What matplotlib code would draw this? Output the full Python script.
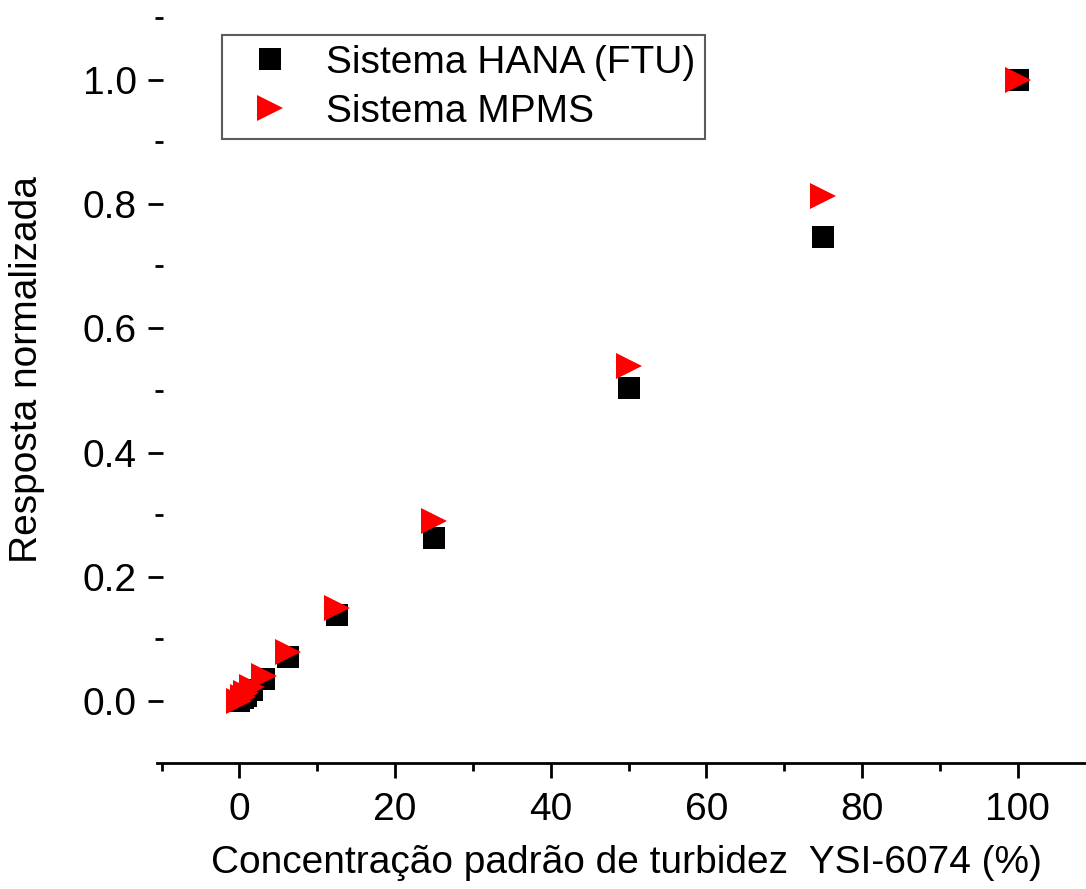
import numpy as np
import matplotlib.pyplot as plt

plt.rcParams['font.family'] = ['Liberation Sans', 'DejaVu Sans']

# concentração padrão (%) - série de diluição
conc = [0, 0.39, 0.78, 1.56, 3.125, 6.25, 12.5, 25, 50, 75, 100]
hana = [0.0, 0.004, 0.008, 0.017, 0.035, 0.070, 0.139, 0.262, 0.504, 0.747, 1.0]
mpms = [0.0, 0.006, 0.012, 0.022, 0.040, 0.078, 0.149, 0.289, 0.539, 0.813, 1.0]

xticks = [0, 20, 40, 60, 80, 100]
yticks = [0.0, 0.2, 0.4, 0.6, 0.8, 1.0]


def plot_graph():
    fig = plt.figure(figsize=(10.86, 8.89), dpi=100)
    ax = fig.add_axes([157 / 1086, 126 / 889, 929 / 1086, 763 / 889])

    ax.plot(conc, hana, 's', color='black', markersize=16, markeredgewidth=0,
            label='Sistema HANA (FTU)')
    ax.plot(conc, mpms, '>', color='red', markersize=19, markeredgewidth=0,
            label='Sistema MPMS')

    ax.set_xlim(-10.6, 108.8)
    ax.set_ylim(-0.1, 1.129)

    ax.set_xticks(xticks)
    ax.set_xticks(np.arange(-10, 110, 10), minor=True)
    ax.set_yticks(yticks)
    ax.set_yticks(np.arange(0.1, 1.15, 0.2), minor=True)
    ax.set_yticklabels(['%.1f' % v for v in yticks])

    for s in ['top', 'right', 'left']:
        ax.spines[s].set_visible(False)
    ax.spines['bottom'].set_linewidth(2)
    # ticks do eixo y ficam um pouco para dentro
    ax.spines['left'].set_position(('axes', 6 / 929))

    ax.tick_params(axis='both', which='major', length=11, width=2, labelsize=28, direction='out')
    ax.tick_params(axis='both', which='minor', length=6, width=2, direction='out')
    ax.tick_params(axis='x', pad=10)
    ax.tick_params(axis='y', pad=8)

    ax.set_xlabel('Concentração padrão de turbidez  YSI-6074 (%)', fontsize=28)
    ax.set_ylabel('Resposta normalizada', fontsize=28)
    ax.xaxis.set_label_coords(0.505, -0.107)
    ax.yaxis.set_label_coords(-0.121, 0.515)

    leg = ax.legend(loc='upper left', bbox_to_anchor=(65 / 929, 1 - 35 / 763), fontsize=28,
                    frameon=True, fancybox=False, edgecolor='#333333', handletextpad=0.44,
                    borderpad=0.25, labelspacing=0.33, handlelength=1.98, borderaxespad=0)
    leg.get_frame().set_linewidth(1.5)

    fig.savefig('out.png', dpi=100)


plot_graph()
